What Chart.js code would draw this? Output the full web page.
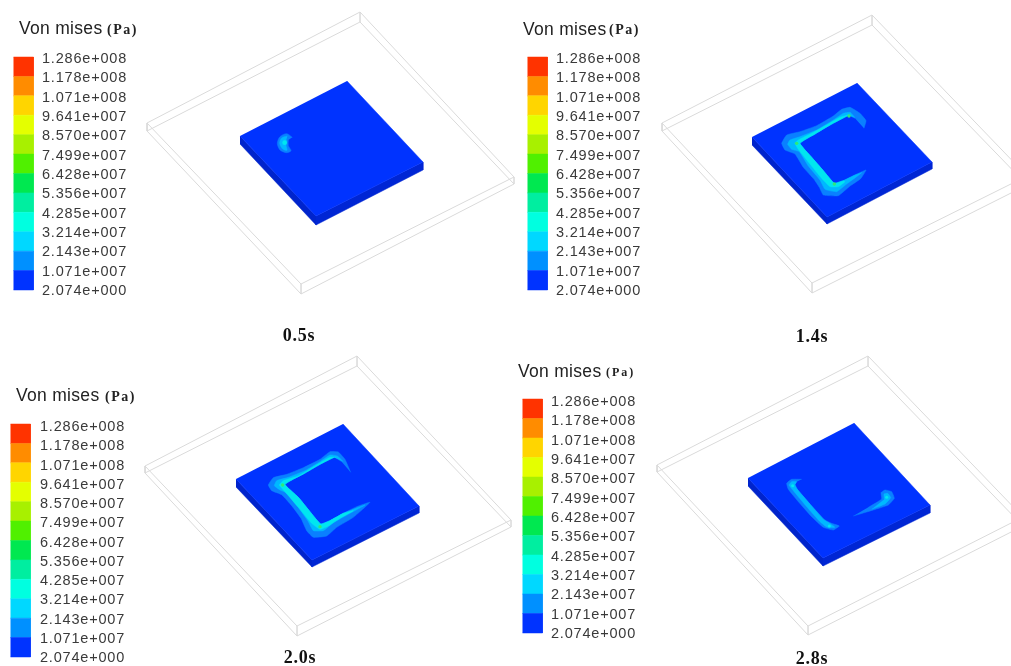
<!DOCTYPE html>
<html><head><meta charset="utf-8">
<style>html,body{margin:0;padding:0;background:#fff}canvas{display:block;filter:blur(0.55px)}</style>
<script src="https://cdn.jsdelivr.net/npm/chart.js@4/dist/chart.umd.min.js"></script>
</head><body><canvas id="c" width="1011" height="666"></canvas>
<script>
const legendLabels=["1.286e+008","1.178e+008","1.071e+008","9.641e+007","8.570e+007","7.499e+007","6.428e+007","5.356e+007","4.285e+007","3.214e+007","2.143e+007","1.071e+007","2.074e+000"];
const legendColors=["#ff3300","#ff8c00","#ffd500","#e4ff00","#a8f000","#50f000","#00e850","#00eea0","#00ffe0","#00d8ff","#0090ff","#0033ff"];
const captions=["0.5s","1.4s","2.0s","2.8s"];

// wireframe boxes: corners top, right, bottom, left (upper rim then lower rim), picture units
const boxUpper1=[[360,12],[514,177],[301,284],[147,123]];
const boxLower1=[[360,22],[514,184],[301,294],[147,131]];
const boxUpper2=[[872,15],[1027,176],[812,283],[662,123]];
const boxLower2=[[872,25],[1027,185],[812,293],[662,131]];
const boxUpper3=[[357,356],[511,520],[297,626],[145,466]];
const boxLower3=[[357,366],[511,527],[297,636],[145,473]];
const boxUpper4=[[868,356],[1023,517],[808,626],[657,465]];
const boxLower4=[[868,366],[1023,526],[808,635],[657,472]];

// plates: top, right, bottom, left on the face, then right/bottom/left at the underside
const plateFace1=[[347,81],[423,162],[316,216],[240,136]];
const plateBase1=[[423,170],[316,225],[240,144]];
const plateFace2=[[857,83],[932,162],[827,217],[752,137]];
const plateBase2=[[932,169],[827,224],[752,145]];
const plateFace3=[[343,424],[419,506],[312,560],[236,479]];
const plateBase3=[[419,513],[312,567],[236,487]];
const plateFace4=[[854,423],[930,505],[823,558],[748,478]];
const plateBase4=[[930,513],[823,566],[748,486]];

const blob1Outer=[[457,412],[440,401],[420,410],[412,430],[420,450],[440,458],[453,452],[445,437],[445,420]];
const blob1Mid=[[442,408],[425,414],[419,430],[428,447],[441,451],[438,435],[439,420]];
const spots1=[[434,428]];

const blob2Outer=[[372,145],[378,122],[360,100],[330,82],[305,88],[280,108],[230,137],[180,155],[140,165],[125,190],[135,210],[165,222],[190,262],[222,298],[238,322],[250,345],[295,347],[330,318],[362,296],[378,270],[345,285],[310,302],[283,310],[250,272],[215,232],[180,190],[225,162],[270,135],[325,106],[345,115]];
const blob2Mid=[[345,113],[330,97],[310,100],[280,120],[230,150],[180,170],[150,180],[143,193],[155,208],[178,215],[205,258],[240,300],[255,328],[290,335],[320,312],[350,290],[365,278],[345,285],[310,302],[283,310],[250,272],[215,232],[180,190],[225,162],[270,135],[325,106]];
const blob2Inner=[[328,104],[300,112],[260,135],[215,160],[175,180],[165,190],[175,208],[210,252],[245,295],[270,320],[295,320],[315,305],[310,302],[283,310],[250,272],[215,232],[180,190],[225,162],[270,135],[325,106]];
const spots2=[[170,190],[283,312],[327,108]];

const blob3Outer=[[362,157],[345,118],[325,96],[300,95],[270,118],[220,143],[170,163],[130,173],[115,195],[125,212],[155,224],[185,257],[213,295],[230,332],[250,352],[290,348],[320,322],[370,292],[420,247],[380,260],[340,280],[300,302],[272,312],[240,275],[205,232],[165,193],[220,162],[270,133],[312,112],[335,125]];
const blob3Mid=[[340,125],[322,108],[300,105],[270,125],[225,152],[175,172],[140,182],[133,197],[150,210],[172,220],[205,262],[235,305],[250,332],[280,332],[310,308],[360,280],[405,255],[340,280],[300,302],[272,312],[240,275],[205,232],[165,193],[220,162],[270,133],[312,112]];
const blob3Inner=[[318,112],[300,112],[260,135],[205,168],[160,182],[148,195],[165,215],[205,262],[245,310],[270,328],[295,318],[330,295],[370,272],[340,280],[300,302],[272,312],[240,275],[205,232],[165,193],[220,162],[270,133],[312,112]];
const spots3=[[158,195],[270,320]];

const blob4OuterA=[[185,178],[155,178],[140,190],[145,208],[175,245],[215,290],[250,322],[280,330],[298,318],[275,310],[255,300],[215,258],[172,208],[165,195],[170,185]];
const blob4OuterB=[[340,288],[400,270],[445,255],[463,235],[455,215],[435,210],[423,218],[425,237],[385,262]];
const blob4MidA=[[170,185],[155,185],[147,195],[160,212],[200,260],[240,305],[262,322],[285,322],[272,312],[250,298],[215,258],[172,208],[165,195]];
const blob4MidB=[[395,268],[435,252],[452,233],[443,220],[432,222],[433,238]];
const spots4=[[158,197],[268,318],[440,232]];

const W=1011,H=666;
const xy=a=>a.map(p=>({x:p[0],y:p[1]}));
const crop=(a,ox,oy)=>a.map(p=>({x:ox+p[0]/3,y:oy+p[1]/3}));
const datasets=[];
function add(d){d.order=-datasets.length;datasets.push(d);}
function poly(data,color,tension){add({data,showLine:true,fill:'shape',backgroundColor:color,borderColor:color,borderWidth:0.5,pointRadius:0,tension:tension||0});}
function wire(u,l){
  const p=[u[3],u[0],u[1],u[2],u[3],l[3],l[0],u[0],l[0],l[1],u[1],l[1],l[2],u[2],l[2],l[3]];
  add({data:xy(p),showLine:true,fill:false,borderColor:'#dadada',borderWidth:1,pointRadius:0,tension:0});
}
function plate(f,b){
  poly(xy([f[3],f[2],b[1],b[2]]),'#0024cc');
  poly(xy([f[2],f[1],b[0],b[1]]),'#0026d4');
  poly(xy(f),'#0033ff');
}
function spots(a,ox,oy,color,r){add({data:crop(a,ox,oy),showLine:false,backgroundColor:color,borderWidth:0,pointRadius:r});}
const OUT='#0a80ff',MID='#00b8ff',INN='#00e6f0',GRN='#30e878';
const T=0.12;

wire(boxUpper1,boxLower1);wire(boxUpper2,boxLower2);wire(boxUpper3,boxLower3);wire(boxUpper4,boxLower4);
plate(plateFace1,plateBase1);plate(plateFace2,plateBase2);plate(plateFace3,plateBase3);plate(plateFace4,plateBase4);

poly(crop(blob1Outer,140,0),OUT,.3);poly(crop(blob1Mid,140,0),MID,.3);spots(spots1,140,0,INN,2.4);
poly(crop(blob2Outer,740,80),OUT,T);poly(crop(blob2Mid,740,80),MID,T);poly(crop(blob2Inner,740,80),INN,T);spots(spots2,740,80,GRN,1.7);
poly(crop(blob3Outer,230,420),OUT,T);poly(crop(blob3Mid,230,420),MID,T);poly(crop(blob3Inner,230,420),INN,T);spots(spots3,230,420,GRN,1.7);
poly(crop(blob4OuterA,740,420),OUT,T);poly(crop(blob4OuterB,740,420),OUT,T);poly(crop(blob4MidA,740,420),MID,T);poly(crop(blob4MidB,740,420),MID,T);spots(spots4,740,420,INN,1.5);

// colour bars
const legends=[
 {bar:13.5,top:57,bottom:290,lx:42,ly0:59,ly1:291,tx:19,ty:29,px:107,py:30,ps:14,sp:1.5},
 {bar:527.5,top:57,bottom:290,lx:556,ly0:59,ly1:291,tx:523,ty:30,px:609,py:30,ps:14,sp:1.5},
 {bar:10.5,top:424,bottom:657,lx:40,ly0:427,ly1:658,tx:16,ty:396,px:105,py:397,ps:14,sp:1.5},
 {bar:522.5,top:399,bottom:633,lx:551,ly0:402,ly1:634,tx:518,ty:372,px:606,py:373,ps:12,sp:2}
];
const capPos=[[299,336],[812,337],[300,658],[812,659]];
legends.forEach(L=>{
  const n=legendColors.length,h=(L.bottom-L.top)/n;
  legendColors.forEach((c,i)=>{
    const a=L.top+i*h,b=a+h;
    poly([{x:L.bar,y:a},{x:L.bar+20,y:a},{x:L.bar+20,y:b},{x:L.bar,y:b}],c);
  });
});

const textPlugin={id:'texts',afterDraw(ch){
  const c=ch.ctx,X=ch.scales.x,Y=ch.scales.y;
  c.save();c.textBaseline='middle';c.textAlign='left';
  legends.forEach(L=>{
    c.fillStyle='#3a3a3a';c.font='14.5px "Liberation Sans"';c.letterSpacing='0.8px';
    const step=(L.ly1-L.ly0)/(legendLabels.length-1);
    legendLabels.forEach((t,i)=>c.fillText(t,X.getPixelForValue(L.lx),Y.getPixelForValue(L.ly0+i*step)));
    c.letterSpacing='0.3px';c.fillStyle='#222';c.font='17.5px "Liberation Sans"';
    c.fillText('Von mises',X.getPixelForValue(L.tx),Y.getPixelForValue(L.ty));
    c.letterSpacing=L.sp+'px';c.font='bold '+L.ps+'px "Liberation Serif"';
    c.fillText('(Pa)',X.getPixelForValue(L.px),Y.getPixelForValue(L.py));
  });
  c.letterSpacing='0.7px';c.fillStyle='#111';c.font='bold 18px "Liberation Serif"';c.textAlign='center';
  captions.forEach((t,i)=>c.fillText(t,X.getPixelForValue(capPos[i][0]),Y.getPixelForValue(capPos[i][1])));
  c.restore();
}};

new Chart(document.getElementById('c'),{type:'scatter',data:{datasets},plugins:[textPlugin],options:{
  responsive:false,animation:false,layout:{padding:0,autoPadding:false},
  plugins:{legend:{display:false},tooltip:{enabled:false},title:{display:false}},
  scales:{x:{type:'linear',min:0,max:W,display:false},y:{type:'linear',min:0,max:H,reverse:true,display:false}}
}});
</script></body></html>
